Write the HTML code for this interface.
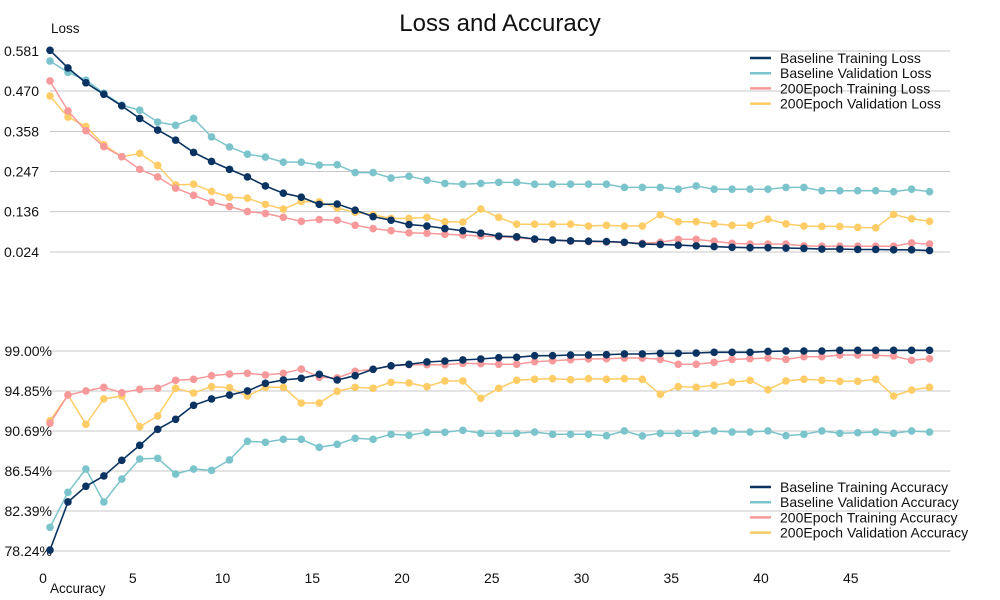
<!DOCTYPE html>
<html><head><meta charset="utf-8"><style>
body{margin:0;background:#fff;}
svg{display:block;font-family:"Liberation Sans",sans-serif;}
</style></head><body>
<svg id="chart" width="1000" height="600">
<text x="500" y="31" text-anchor="middle" font-size="24" fill="#111">Loss and Accuracy</text>
<text x="51" y="33" font-size="13.5" fill="#111">Loss</text>
<text x="50" y="593" font-size="13.5" fill="#111">Accuracy</text>
<g id="grid"></g><g id="series"></g><g id="legend"></g>
</svg>
<script>
const epochs = Array.from({length:50},(_, i)=>i);
const xTicks = [0,5,10,15,20,25,30,35,40,45];
const lossTicks = [0.024,0.136,0.247,0.358,0.470,0.581];
const accTicks = [78.24,82.39,86.54,90.69,94.85,99.00];
const lossNames = ["Baseline Training Loss","Baseline Validation Loss","200Epoch Training Loss","200Epoch Validation Loss"];
const accNames = ["Baseline Training Accuracy","Baseline Validation Accuracy","200Epoch Training Accuracy","200Epoch Validation Accuracy"];
const baseTrainLoss = [0.583,0.534,0.493,0.461,0.429,0.394,0.362,0.334,0.300,0.275,0.253,0.232,0.207,0.187,0.176,0.156,0.157,0.140,0.122,0.112,0.100,0.096,0.089,0.083,0.076,0.068,0.066,0.060,0.057,0.055,0.054,0.053,0.051,0.046,0.045,0.043,0.041,0.039,0.037,0.036,0.036,0.035,0.034,0.032,0.032,0.031,0.031,0.030,0.030,0.028];
const baseValLoss = [0.553,0.522,0.500,0.464,0.431,0.417,0.384,0.375,0.394,0.343,0.315,0.295,0.287,0.273,0.273,0.265,0.266,0.244,0.244,0.229,0.234,0.223,0.214,0.212,0.214,0.217,0.217,0.212,0.212,0.212,0.212,0.212,0.203,0.203,0.203,0.198,0.207,0.198,0.198,0.198,0.198,0.203,0.203,0.194,0.194,0.194,0.194,0.191,0.198,0.191];
const e200TrainLoss = [0.498,0.415,0.360,0.316,0.288,0.253,0.232,0.201,0.181,0.162,0.150,0.136,0.131,0.120,0.109,0.114,0.112,0.098,0.089,0.083,0.077,0.076,0.073,0.071,0.068,0.066,0.064,0.059,0.057,0.054,0.053,0.052,0.050,0.048,0.051,0.059,0.059,0.054,0.048,0.046,0.046,0.046,0.041,0.040,0.040,0.040,0.040,0.040,0.049,0.046];
const e200ValLoss = [0.456,0.398,0.372,0.321,0.288,0.297,0.264,0.210,0.212,0.192,0.176,0.173,0.156,0.143,0.164,0.163,0.146,0.134,0.127,0.117,0.117,0.120,0.108,0.107,0.143,0.120,0.101,0.101,0.101,0.101,0.096,0.098,0.096,0.096,0.127,0.108,0.108,0.102,0.098,0.098,0.115,0.102,0.096,0.095,0.095,0.092,0.091,0.128,0.116,0.109];
const baseTrainAcc = [78.34,83.33,84.96,86.03,87.65,89.21,90.87,91.91,93.36,94.02,94.43,94.85,95.65,95.99,96.17,96.58,95.99,96.44,97.10,97.47,97.62,97.86,97.96,98.07,98.17,98.31,98.35,98.51,98.51,98.58,98.58,98.62,98.69,98.69,98.76,98.76,98.79,98.86,98.86,98.86,98.96,99.00,99.00,99.00,99.07,99.07,99.07,99.07,99.07,99.07];
const baseValAcc = [80.70,84.33,86.75,83.33,85.71,87.79,87.86,86.23,86.75,86.61,87.69,89.63,89.52,89.83,89.83,89.00,89.31,89.94,89.83,90.35,90.25,90.56,90.56,90.77,90.46,90.46,90.46,90.59,90.35,90.35,90.35,90.21,90.70,90.18,90.46,90.46,90.46,90.70,90.59,90.59,90.70,90.21,90.35,90.70,90.46,90.52,90.59,90.46,90.70,90.59];
const e200TrainAcc = [91.50,94.43,94.85,95.23,94.67,95.02,95.13,95.96,96.06,96.44,96.61,96.69,96.51,96.69,97.13,96.27,96.20,96.89,97.10,97.44,97.58,97.58,97.58,97.72,97.68,97.62,97.62,97.89,97.99,98.10,98.17,98.20,98.27,98.27,98.13,97.62,97.62,97.82,98.13,98.20,98.27,98.13,98.41,98.41,98.58,98.58,98.55,98.48,98.03,98.20];
const e200ValAcc = [91.77,94.43,91.39,94.02,94.33,91.14,92.25,95.13,94.64,95.30,95.19,94.33,95.23,95.23,93.60,93.60,94.82,95.23,95.13,95.75,95.68,95.30,95.89,95.89,94.09,95.13,95.96,96.06,96.13,96.02,96.13,96.06,96.13,96.06,94.50,95.30,95.23,95.44,95.75,95.96,94.98,95.89,96.06,95.96,95.85,95.85,96.06,94.33,94.95,95.23];
const colors = ["#0a3361","#7cc4cc","#f7999a","#ffcc66"];

const NS="http://www.w3.org/2000/svg";
const X0=50, XSTEP=17.95;
const xs = e => X0 + e*XSTEP;
const yLoss = v => 252 - (v-0.024)/(0.581-0.024)*201;
const yAcc = v => 551 - (v-78.24)/(99.00-78.24)*200;
function mk(tag, attrs, parent){const el=document.createElementNS(NS,tag);for(const k in attrs)el.setAttribute(k,attrs[k]);parent.appendChild(el);return el;}
const grid=document.getElementById('grid'), ser=document.getElementById('series'), leg=document.getElementById('legend');

lossTicks.forEach(t=>{
  const l=mk('line',{x1:50,x2:950,y1:yLoss(t),y2:yLoss(t),stroke:'#c8c8c8','stroke-width':1},grid);
  
  
  const tx=mk('text',{x:39,y:yLoss(t)+5,'text-anchor':'end','font-size':14,fill:'#111'},grid);
  tx.textContent=t.toFixed(3);
  
  
});
accTicks.forEach(t=>{
  const l=mk('line',{x1:50,x2:950,y1:yAcc(t),y2:yAcc(t),stroke:'#c8c8c8','stroke-width':1},grid);
  
  
  const tx=mk('text',{x:52,y:yAcc(t)+5,'text-anchor':'end','font-size':14,fill:'#111'},grid);
  tx.textContent=t.toFixed(2)+'%';
  
  
});
xTicks.forEach(t=>{
  const tx=mk('text',{x:xs(t)-7,y:583,'text-anchor':'middle','font-size':14,fill:'#111'},grid);
  tx.textContent=t;
  
  
});

function drawSeries(vals, yf, color, name, w){
  const g=mk('g',{},ser);
  
  
  const pts=vals.map((v,i)=>xs(epochs[i]).toFixed(1)+','+yf(v).toFixed(1)).join(' ');
  const pl=mk('polyline',{points:pts,fill:'none',stroke:color,'stroke-width':w},g);
  
  
  vals.forEach((v,i)=>{
    const c=mk('circle',{cx:xs(epochs[i]),cy:yf(v),r:3.8,fill:color},g);
    
    
  });
}
drawSeries(baseValLoss,yLoss,colors[1],'baseline-validation-loss',1.5);
drawSeries(e200ValLoss,yLoss,colors[3],'200epoch-validation-loss',1.5);
drawSeries(e200TrainLoss,yLoss,colors[2],'200epoch-training-loss',1.5);
drawSeries(baseTrainLoss,yLoss,colors[0],'baseline-training-loss',1.6);
drawSeries(baseValAcc,yAcc,colors[1],'baseline-validation-accuracy',1.5);
drawSeries(e200ValAcc,yAcc,colors[3],'200epoch-validation-accuracy',1.5);
drawSeries(e200TrainAcc,yAcc,colors[2],'200epoch-training-accuracy',1.5);
drawSeries(baseTrainAcc,yAcc,colors[0],'baseline-training-accuracy',1.6);

function legend(names, y0, nm){
  names.forEach((n,i)=>{
    const y=y0+i*15.2;
    const g=mk('g',{},leg);
    
    
    mk('line',{x1:750,x2:771,y1:y,y2:y,stroke:colors[i],'stroke-width':2.5},g);
    const t=mk('text',{x:780,y:y+5,'font-size':14,fill:'#111'},g);
    t.textContent=n;
  });
}
legend(lossNames,58,'loss');
legend(accNames,487,'accuracy');
</script>
</body></html>
